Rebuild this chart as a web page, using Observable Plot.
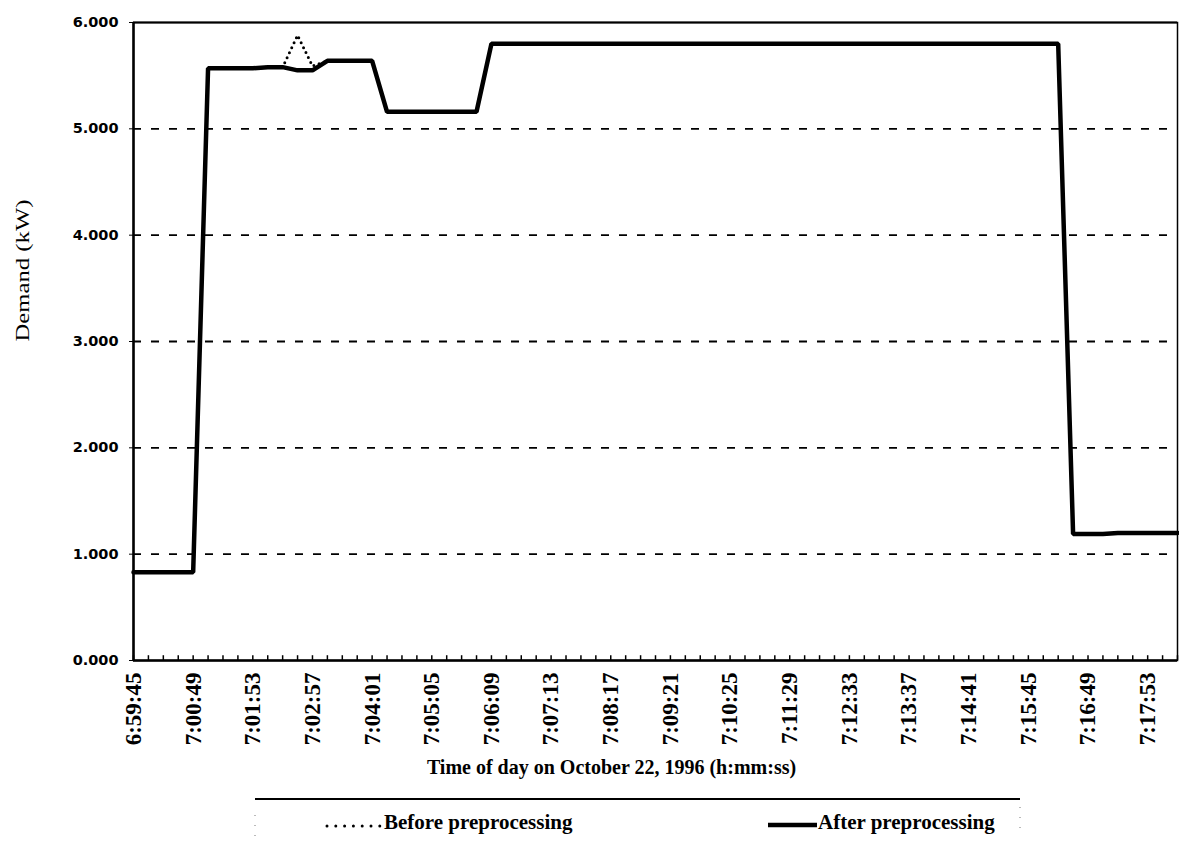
<!DOCTYPE html>
<html><head><meta charset="utf-8">
<script src="https://cdn.jsdelivr.net/npm/d3@7"></script>
<script src="https://cdn.jsdelivr.net/npm/@observablehq/plot@0.6"></script>
<style>body{margin:0;background:#fff} svg{display:block}</style>
</head><body><div id="chart"></div>
<script>
const times = [
"6:59:45","7:00:01","7:00:17","7:00:33","7:00:49","7:01:05","7:01:21","7:01:37","7:01:53","7:02:09",
"7:02:25","7:02:41","7:02:57","7:03:13","7:03:29","7:03:45","7:04:01","7:04:17","7:04:33","7:04:49",
"7:05:05","7:05:21","7:05:37","7:05:53","7:06:09","7:06:25","7:06:41","7:06:57","7:07:13","7:07:29",
"7:07:45","7:08:01","7:08:17","7:08:33","7:08:49","7:09:05","7:09:21","7:09:37","7:09:53","7:10:09",
"7:10:25","7:10:41","7:10:57","7:11:13","7:11:29","7:11:45","7:12:01","7:12:17","7:12:33","7:12:49",
"7:13:05","7:13:21","7:13:37","7:13:53","7:14:09","7:14:25","7:14:41","7:14:57","7:15:13","7:15:29",
"7:15:45","7:16:01","7:16:17","7:16:33","7:16:49","7:17:05","7:17:21","7:17:37","7:17:53","7:18:09",
"7:18:25"];
const labelTimes = ["6:59:45","7:00:49","7:01:53","7:02:57","7:04:01","7:05:05","7:06:09","7:07:13","7:08:17",
"7:09:21","7:10:25","7:11:29","7:12:33","7:13:37","7:14:41","7:15:45","7:16:49","7:17:53"];
const afterDemand = [
0.83,0.83,0.83,0.83,0.83,
5.57,5.57,5.57,5.57,5.58,5.58,
5.55,5.55,
5.64,5.64,5.64,5.64,
5.16,5.16,5.16,5.16,5.16,5.16,5.16,
5.80,5.80,5.80,5.80,5.80,5.80,5.80,5.80,5.80,5.80,
5.80,5.80,5.80,5.80,5.80,5.80,5.80,5.80,5.80,5.80,
5.80,5.80,5.80,5.80,5.80,5.80,5.80,5.80,5.80,5.80,
5.80,5.80,5.80,5.80,5.80,5.80,5.80,5.80,5.80,
1.19,1.19,1.19,1.20,1.20,1.20,1.20,1.20];
const beforeDemand = [
0.83,0.83,0.83,0.83,0.83,
5.57,5.57,5.57,5.57,5.58,5.58,
5.88,5.59,
5.64,5.64,5.64,5.64,
5.16,5.16,5.16,5.16,5.16,5.16,5.16,
5.80,5.80,5.80,5.80,5.80,5.80,5.80,5.80,5.80,5.80,
5.80,5.80,5.80,5.80,5.80,5.80,5.80,5.80,5.80,5.80,
5.80,5.80,5.80,5.80,5.80,5.80,5.80,5.80,5.80,5.80,
5.80,5.80,5.80,5.80,5.80,5.80,5.80,5.80,5.80,
1.19,1.19,1.19,1.20,1.20,1.20,1.20,1.20];
const yTicks = [0,1,2,3,4,5,6];
const gridValues = [1,2,3,4,5];
const seriesNames = ["Before preprocessing","After preprocessing"];
const yTitle = "Demand (kW)";
const xTitle = "Time of day on October 22, 1996 (h:mm:ss)";

const rows = times.map((t,i)=>({time:t, before: beforeDemand[i], after: afterDemand[i]}));
const serif = "'Liberation Serif', 'Times New Roman', serif";

const chart = Plot.plot({
  width:1179, height:795, marginLeft:133, marginRight:2, marginTop:22, marginBottom:135,
  style:{background:"white", color:"black"},
  x:{type:"point", domain:times, padding:0},
  y:{domain:[0,6]},
  marks:[
    Plot.gridY(gridValues, {stroke:"black", strokeOpacity:1, strokeWidth:1.8, strokeDasharray:"8,10"}),
    Plot.ruleX(times, {x:d=>d, y1:0, y2:0.045, stroke:"black", strokeWidth:1.5}),
    Plot.frame({stroke:"black", strokeWidth:1.5}),
    Plot.ruleY([0], {stroke:"black", strokeWidth:2.5}),
    Plot.ruleY([6], {stroke:"black", strokeWidth:2.2}),
    Plot.ruleX([times[0]], {stroke:"black", strokeWidth:2.5}),
    Plot.line(rows, {x:"time", y:"before", stroke:"black", strokeWidth:3, strokeDasharray:"0,5.5", strokeLinecap:"round"}),
    Plot.line(rows, {x:"time", y:"after", stroke:"black", strokeWidth:4.5, strokeLinejoin:"miter"}),
    Plot.axisY(yTicks, {tickSize:4, tickPadding:11, tickFormat:d3.format(".3f"), fontSize:14.5, fontFamily:"'DejaVu Sans', sans-serif", fontWeight:"bold", label:null}),
    Plot.axisX(labelTimes, {tickSize:0, tickPadding:12, tickRotate:-90, fontSize:23, fontFamily:serif, fontWeight:"bold", label:null}),
    Plot.text([yTitle], {text:d=>d, frameAnchor:"left", dx:-111, rotate:-90, fontSize:19, fontFamily:serif}),
    Plot.text([xTitle], {text:d=>d, frameAnchor:"bottom", dy:113, dx:-44, fontSize:20, fontWeight:"bold", fontFamily:serif})
  ]
});
document.getElementById("chart").appendChild(chart);
d3.select(chart).selectAll("text").filter(function(){return this.textContent===yTitle;})
  .attr("textLength",142).attr("lengthAdjust","spacingAndGlyphs");

// legend
const leg = d3.create("svg").attr("width",1179).attr("height",54);
leg.append("line").attr("x1",255).attr("x2",1020).attr("y1",4).attr("y2",4).attr("stroke","black").attr("stroke-width",2);
leg.append("line").attr("x1",255).attr("x2",255).attr("y1",20).attr("y2",48).attr("stroke","#777").attr("stroke-width",1).attr("stroke-dasharray","1,9");
leg.append("line").attr("x1",1020).attr("x2",1020).attr("y1",12).attr("y2",40).attr("stroke","#777").attr("stroke-width",1).attr("stroke-dasharray","1,9");
leg.append("line").attr("x1",327).attr("x2",380).attr("y1",31).attr("y2",31).attr("stroke","black").attr("stroke-width",3).attr("stroke-linecap","round").attr("stroke-dasharray","0,8.8");
leg.append("text").attr("x",384).attr("y",34).attr("font-family",serif).attr("font-weight","bold").attr("font-size",21).text(seriesNames[0]);
leg.append("line").attr("x1",768).attr("x2",817).attr("y1",30).attr("y2",30).attr("stroke","black").attr("stroke-width",4.5);
leg.append("text").attr("x",818).attr("y",34).attr("font-family",serif).attr("font-weight","bold").attr("font-size",21).text(seriesNames[1]);
document.getElementById("chart").appendChild(leg.node());
</script>
</body></html>
